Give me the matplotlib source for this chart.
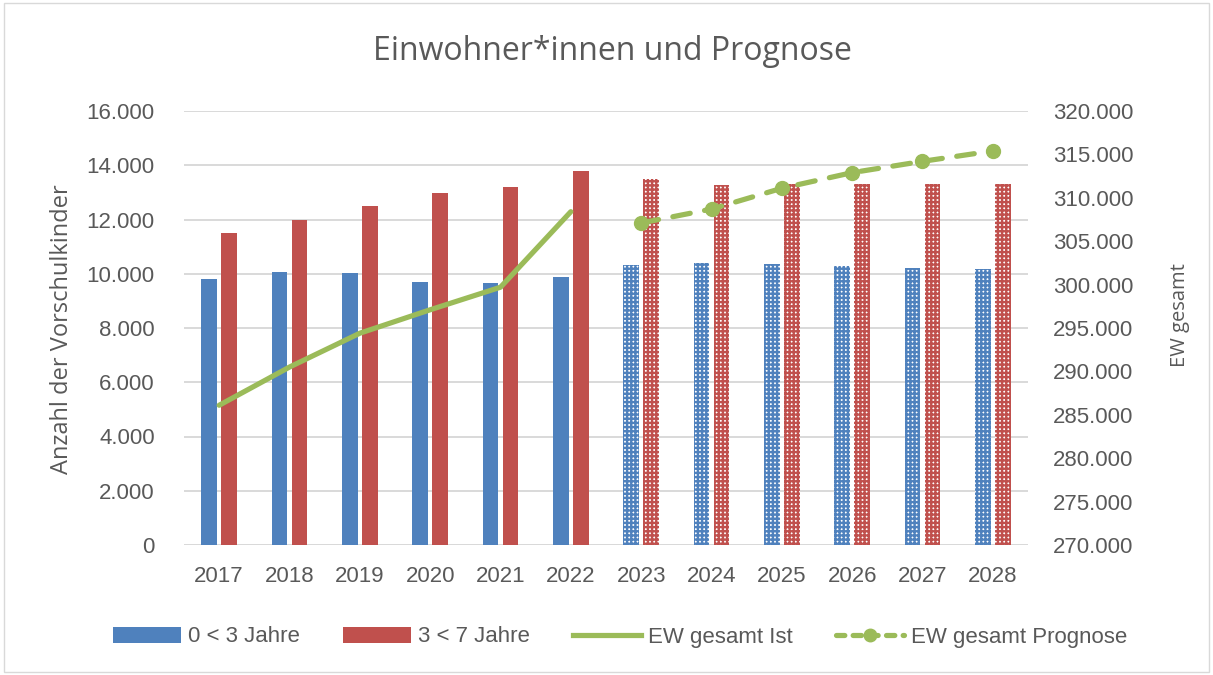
import matplotlib
matplotlib.use("Agg")
import matplotlib.pyplot as plt
from matplotlib.ticker import FuncFormatter, FixedLocator
from matplotlib.lines import Line2D
from matplotlib.patches import Patch, Rectangle
import numpy as np

years = ["2017", "2018", "2019", "2020", "2021", "2022", "2023", "2024", "2025", "2026", "2027", "2028"]
kids_0_3 = [9800, 10060, 10030, 9700, 9660, 9880, 10320, 10390, 10350, 10280, 10200, 10160]
kids_3_7 = [11500, 12000, 12500, 12970, 13200, 13790, 13490, 13260, 13300, 13300, 13300, 13300]
ew_ist_years = ["2017", "2018", "2019", "2020", "2021", "2022"]
ew_ist = [286100, 290500, 294400, 297100, 299700, 308400]
ew_prog_years = ["2023", "2024", "2025", "2026", "2027", "2028"]
ew_prog = [307100, 308700, 311100, 312900, 314200, 315400]
n_actual = 6

BLUE = "#4f81bd"
RED = "#c0504d"
GREEN = "#9bbb59"
TXT = "#595959"

plt.rcParams['font.family'] = ['Liberation Sans', 'DejaVu Sans']
plt.rcParams['hatch.linewidth'] = 1.7

W, H = 1213, 675
fig = plt.figure(figsize=(W / 100, H / 100), dpi=100)
fig.patches.append(Rectangle((0.003, 0.004), 0.994, 0.992, transform=fig.transFigure,
                             fill=False, edgecolor="#d9d9d9", linewidth=1))
ax = fig.add_axes([184 / W, 1 - 545 / H, (1028 - 184) / W, 434 / H])
ax2 = ax.twinx()

x = np.arange(len(years))
w = 0.223
off = 0.142
for i in range(len(years)):
    if i < n_actual:
        ax.bar(x[i] - off, kids_0_3[i], w, color=BLUE, linewidth=0, zorder=2)
        ax.bar(x[i] + off, kids_3_7[i], w, color=RED, linewidth=0, zorder=2)
    else:
        ax.bar(x[i] - off, kids_0_3[i], w, facecolor="white", edgecolor=BLUE, hatch="++++", linewidth=0, zorder=2)
        ax.bar(x[i] + off, kids_3_7[i], w, facecolor="white", edgecolor=RED, hatch="++++", linewidth=0, zorder=2)

xi = [years.index(y) for y in ew_ist_years]
xp = [years.index(y) for y in ew_prog_years]
ax2.plot(xi, ew_ist, color=GREEN, linewidth=3.75, solid_capstyle="round", solid_joinstyle="round", zorder=3)
ax2.plot(xp, ew_prog, color=GREEN, linewidth=3.75, linestyle=(0, (3.4, 2.8)), marker="o", markersize=10,
         dash_capstyle="round", zorder=3)

ax.set_xlim(-0.5, len(years) - 0.5)
ax.set_ylim(0, 16000)
ax2.set_ylim(270000, 320000)
ax.yaxis.set_major_locator(FixedLocator(np.arange(0, 16001, 2000)))
ax2.yaxis.set_major_locator(FixedLocator(np.arange(270000, 320001, 5000)))

def dotfmt(v, pos):
    return f"{int(round(v)):,}".replace(",", ".")

ax.yaxis.set_major_formatter(FuncFormatter(dotfmt))
ax2.yaxis.set_major_formatter(FuncFormatter(dotfmt))
ax.set_xticks(x)
ax.set_xticklabels(years)

ax.grid(axis="y", color="#d9d9d9", linewidth=1.4, zorder=0)
ax.set_axisbelow(True)
for a in (ax, ax2):
    for s in ["top", "left", "right", "bottom"]:
        a.spines[s].set_visible(False)
    a.tick_params(length=0, labelsize=16, colors=TXT)
ax.axhline(0, color="#d9d9d9", linewidth=1.4, zorder=1)
ax.tick_params(axis="x", pad=15)
ax.tick_params(axis="y", pad=21)
ax2.tick_params(axis="y", pad=18)

fig.text(62 / W, 1 - 329 / H, "Anzahl der Vorschulkinder", rotation=90, ha="center", va="center",
         fontsize=17, color=TXT, family=["Open Sans", "DejaVu Sans"])
fig.text(1180 / W, 1 - 315 / H, "EW gesamt", rotation=90, ha="center", va="center",
         fontsize=14.5, color=TXT, family=["Open Sans", "DejaVu Sans"])
fig.text(612 / W, 1 - 52 / H, "Einwohner*innen und Prognose", ha="center", va="center", fontsize=23,
         color=TXT, family=["Open Sans", "DejaVu Sans"])

handles = [
    Patch(facecolor=BLUE, edgecolor="none"),
    Patch(facecolor=RED, edgecolor="none"),
    Line2D([], [], color=GREEN, linewidth=3.75),
    Line2D([], [], color=GREEN, linewidth=3.75, linestyle=(0, (1.6, 1.6)), marker="o", markersize=9,
           dash_capstyle="round"),
]
labels = ["0 < 3 Jahre", "3 < 7 Jahre", "EW gesamt Ist", "EW gesamt Prognose"]
fig.legend(handles, labels, loc="center", bbox_to_anchor=(620 / W, 1 - 637 / H), ncol=4, frameon=False,
           fontsize=16, labelcolor=TXT, handlelength=3.06, handleheight=0.75, columnspacing=1.94,
           handletextpad=0.32)

fig.savefig("out.png", dpi=100)
